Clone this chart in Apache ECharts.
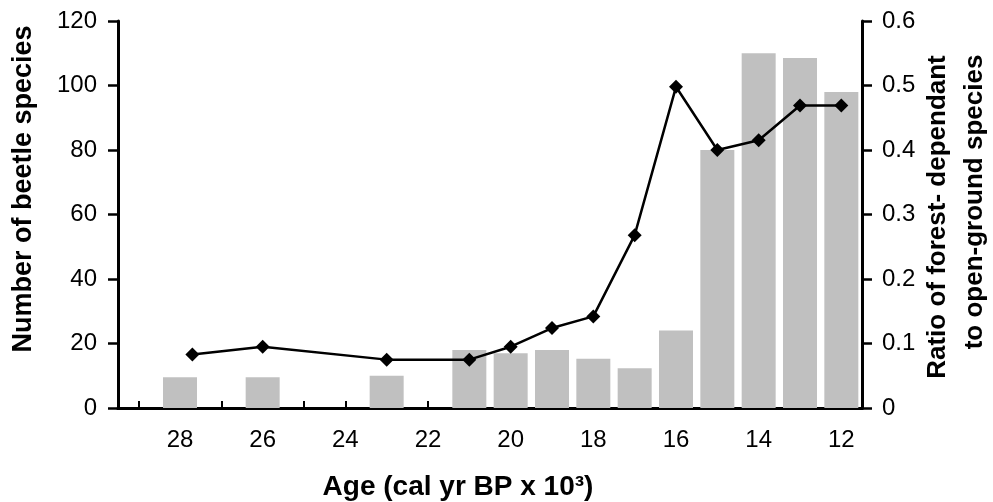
<!DOCTYPE html>
<html>
<head>
<meta charset="utf-8">
<script src="https://cdn.jsdelivr.net/npm/echarts@6/dist/echarts.min.js"></script>
<style>
html,body{margin:0;padding:0;background:#fff;}
#main{width:993px;height:502px;}
</style>
</head>
<body>
<div id="main"></div>
<script>
// Age categories (cal yr BP x 10^3)
const ageCategories = ['29','28','27','26','25','24','23','22','21','20','19','18','17','16','15','14','13','12'];
// Number of beetle species (bars); null = no sample
const beetleSpecies = [null, 9.5, null, 9.5, null, null, 10, null, 18, 17, 18, 15.3, 12.3, 24, 80, 110, 108.5, 98];
// Ratio of forest-dependant to open-ground species (line)
const ratioAges = [27.7, 26, 23, 21, 20, 19, 18, 17, 16, 15, 14, 13, 12];
const ratioValues = [0.083, 0.095, 0.075, 0.075, 0.095, 0.124, 0.142, 0.268, 0.498, 0.400, 0.415, 0.469, 0.469];
// Axis ticks
const leftTicks = {min: 0, max: 120, interval: 20};
const rightTicks = {min: 0, max: 0.6, interval: 0.1};

const FONT = "'Liberation Sans', Arial, sans-serif";
const chart = echarts.init(document.getElementById('main'), null, {renderer: 'canvas'});

chart.setOption({
  animation: false,
  backgroundColor: '#fff',
  grid: {left: 118, right: 131, top: 21, bottom: 94, containLabel: false},
  xAxis: [
    {
      type: 'category',
      data: ageCategories,
      position: 'bottom',
      boundaryGap: true,
      axisLine: {show: true, lineStyle: {color: '#000', width: 3}},
      axisTick: {show: true, inside: true, length: 7, alignWithLabel: true, interval: 0, lineStyle: {color: '#000', width: 2}},
      axisLabel: {
        show: true,
        interval: function (index) { return index % 2 === 1; },
        color: '#000', fontFamily: FONT, fontSize: 24, margin: 20
      },
      splitLine: {show: false}
    },
    {
      type: 'value',
      position: 'top',
      min: 11.5, max: 29.5,
      inverse: true,
      axisLine: {show: true, lineStyle: {color: '#000', width: 3}},
      axisTick: {show: false},
      axisLabel: {show: false},
      splitLine: {show: false}
    }
  ],
  yAxis: [
    {
      type: 'value',
      position: 'left',
      min: leftTicks.min, max: leftTicks.max, interval: leftTicks.interval,
      axisLine: {show: true, onZero: false, lineStyle: {color: '#000', width: 3}},
      axisTick: {show: true, length: 10, lineStyle: {color: '#000', width: 2.5}},
      axisLabel: {color: '#000', fontFamily: FONT, fontSize: 24, margin: 21},
      splitLine: {show: false}
    },
    {
      type: 'value',
      position: 'right',
      min: rightTicks.min, max: rightTicks.max, interval: rightTicks.interval,
      axisLine: {show: true, onZero: false, lineStyle: {color: '#000', width: 3}},
      axisTick: {show: true, length: 10, lineStyle: {color: '#000', width: 2.5}},
      axisLabel: {color: '#000', fontFamily: FONT, fontSize: 24, margin: 20,
        formatter: function (v) { return v === 0 ? '0' : String(Math.round(v * 10) / 10); }},
      splitLine: {show: false}
    }
  ],
  series: [
    {
      type: 'bar',
      xAxisIndex: 0, yAxisIndex: 0,
      data: beetleSpecies,
      barWidth: 34,
      itemStyle: {color: '#c0c0c0'},
      z: 1
    },
    {
      type: 'line',
      xAxisIndex: 1, yAxisIndex: 1,
      data: ratioAges.map(function (a, i) { return [a, ratioValues[i]]; }),
      symbol: 'diamond',
      symbolSize: 14,
      itemStyle: {color: '#000'},
      lineStyle: {color: '#000', width: 2.5},
      z: 3
    }
  ],
  graphic: [
    {
      type: 'text', x: 24, y: 189, rotation: Math.PI / 2,
      style: {text: 'Number of beetle species', font: 'bold 27px ' + FONT, fill: '#000', align: 'center', verticalAlign: 'middle'}
    },
    {
      type: 'text', x: 938, y: 217, rotation: Math.PI / 2,
      style: {text: 'Ratio of forest- dependant', font: 'bold 26px ' + FONT, fill: '#000', align: 'center', verticalAlign: 'middle'}
    },
    {
      type: 'text', x: 975, y: 202, rotation: Math.PI / 2,
      style: {text: 'to open-ground species', font: 'bold 26px ' + FONT, fill: '#000', align: 'center', verticalAlign: 'middle'}
    },
    {
      type: 'text', x: 458, y: 487,
      style: {text: 'Age (cal yr BP x 10³)', font: 'bold 28px ' + FONT, fill: '#000', align: 'center', verticalAlign: 'middle'}
    }
  ]
});
</script>
</body>
</html>
